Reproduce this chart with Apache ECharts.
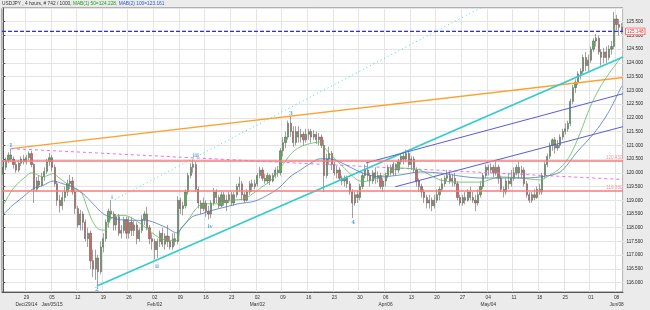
<!DOCTYPE html>
<html><head><meta charset="utf-8">
<script src="https://cdn.jsdelivr.net/npm/echarts/dist/echarts.min.js"></script>
<style>html,body{margin:0;padding:0;background:#ebebeb}#c{width:650px;height:310px}</style>
</head><body><div id="c"></div>
<script>
// 12-hour candles, 10 per trading week
const opens = [
119.95,120.2,120.45,120.65,120.5,120.3,120.1,120.35,120.5,
120.4,120.55,120.7,120.3,119.4,119.7,119.55,119.85,120.05,120.4,
120.55,120.2,119.6,119.0,118.8,119.1,119.3,119.6,119.7,119.3,
118.7,118.1,118.5,118.2,117.6,117.8,116.8,116.5,116.9,116.4,
117.3,117.6,118.2,118.6,118.5,118.1,118.4,117.8,117.9,118.3,
117.8,118.2,117.9,118.1,117.6,117.9,118.3,118.5,118.0,117.6,
117.5,117.2,117.5,117.8,117.4,117.7,117.5,117.3,117.6,117.5,
119.0,118.7,118.8,119.3,119.9,120.2,120.3,119.4,118.9,118.7,
118.9,118.6,118.5,118.9,119.3,119.1,118.8,119.2,118.9,119.0,
119.2,118.9,119.2,119.5,119.6,119.2,119.0,119.3,119.6,119.5,
119.6,119.9,120.1,119.8,119.7,119.9,119.7,119.9,120.1,120.0,
120.8,121.1,121.3,121.8,121.5,121.1,121.5,121.3,121.4,121.2,
121.4,121.5,121.3,121.4,121.2,121.3,121.0,119.9,120.5,120.7,
120.3,120.0,120.1,119.8,119.7,119.8,119.6,119.3,118.9,119.2,
119.1,119.5,119.9,120.1,119.9,119.7,120.0,119.8,119.9,119.5,
119.7,119.9,120.2,120.0,120.3,120.1,120.4,120.6,120.5,120.7,
120.3,120.5,120.1,119.7,119.5,119.3,119.1,118.9,119.0,118.8,
119.0,119.2,119.4,119.6,119.8,119.9,119.7,119.8,119.6,119.1,
118.9,119.1,119.0,119.3,119.1,119.0,118.9,119.2,119.5,119.9,
120.2,120.1,120.2,120.0,120.2,119.8,119.4,119.3,119.7,119.6,
119.8,120.0,120.2,120.0,120.1,119.6,119.2,119.0,119.2,119.1,
119.4,119.3,119.9,120.3,120.6,121.0,121.2,120.9,121.0,121.3,
121.5,121.6,121.8,122.6,123.1,123.3,123.6,123.7,124.2,123.9,
124.1,124.5,124.8,124.9,124.4,124.2,124.4,124.2,124.5,124.6,
125.6,125.4,125.3];
const closes = [
120.2,120.45,120.65,120.5,120.3,120.1,120.35,120.5,120.4,
120.55,120.7,120.3,119.4,119.7,119.55,119.85,120.05,120.4,120.55,
120.2,119.6,119.0,118.8,119.1,119.3,119.6,119.7,119.3,118.7,
118.1,118.5,118.2,117.6,117.8,116.8,116.5,116.9,116.4,117.3,
117.6,118.2,118.6,118.5,118.1,118.4,117.8,117.9,118.3,117.8,
118.2,117.9,118.1,117.6,117.9,118.3,118.5,118.0,117.6,117.5,
117.2,117.5,117.8,117.4,117.7,117.5,117.3,117.6,117.5,119.0,
118.7,118.8,119.3,119.9,120.2,120.3,119.4,118.9,118.7,118.9,
118.6,118.5,118.9,119.3,119.1,118.8,119.2,118.9,119.0,119.2,
118.9,119.2,119.5,119.6,119.2,119.0,119.3,119.6,119.5,119.6,
119.9,120.1,119.8,119.7,119.9,119.7,119.9,120.1,120.0,120.8,
121.1,121.3,121.8,121.5,121.1,121.5,121.3,121.4,121.2,121.4,
121.5,121.3,121.4,121.2,121.3,121.0,119.9,120.5,120.7,120.3,
120.0,120.1,119.8,119.7,119.8,119.6,119.3,118.9,119.2,119.1,
119.5,119.9,120.1,119.9,119.7,120.0,119.8,119.9,119.5,119.7,
119.9,120.2,120.0,120.3,120.1,120.4,120.6,120.5,120.7,120.3,
120.5,120.1,119.7,119.5,119.3,119.1,118.9,119.0,118.8,119.0,
119.2,119.4,119.6,119.8,119.9,119.7,119.8,119.6,119.1,118.9,
119.1,119.0,119.3,119.1,119.0,118.9,119.2,119.5,119.9,120.2,
120.1,120.2,120.0,120.2,119.8,119.4,119.3,119.7,119.6,119.8,
120.0,120.2,120.0,120.1,119.6,119.2,119.0,119.2,119.1,119.4,
119.3,119.9,120.3,120.6,121.0,121.2,120.9,121.0,121.3,121.5,
121.6,121.8,122.6,123.1,123.3,123.6,123.7,124.2,123.9,124.1,
124.5,124.8,124.9,124.4,124.2,124.4,124.2,124.5,124.6,125.6,
125.4,125.3,125.148];
const lows = [
119.9,120.1,120.35,120.4,120.15,120.0,120.02,120.25,120.3,
120.3,120.45,120.2,118.9,119.3,119.45,119.5,119.7,119.95,120.25,
120.05,119.5,118.8,118.55,118.65,118.95,119.15,119.4,119.2,118.5,
118.0,117.9,117.9,117.5,117.3,116.5,116.2,116.1,115.86,116.3,
117.1,117.5,118.0,118.3,117.9,117.9,117.7,117.6,117.8,117.6,
117.6,117.7,117.7,117.4,117.5,117.8,118.1,117.9,117.4,117.2,
116.85,116.9,117.3,117.3,117.2,117.3,117.2,117.2,117.35,117.4,
118.5,118.45,118.7,119.2,119.8,120.0,119.3,118.7,118.5,118.6,
118.4,118.3,118.35,118.8,118.9,118.7,118.75,118.8,118.6,118.9,
118.8,118.8,119.1,119.3,119.0,118.9,118.95,119.2,119.3,119.4,
119.5,119.8,119.7,119.6,119.6,119.55,119.65,119.8,119.85,119.9,
120.6,120.9,121.2,121.3,120.95,121.0,121.1,121.1,121.0,121.1,
121.2,121.1,121.2,121.05,121.0,120.9,119.3,119.8,120.3,120.1,
119.9,119.8,119.7,119.55,119.5,119.45,119.2,118.35,118.8,118.9,
119.0,119.4,119.8,119.7,119.5,119.6,119.6,119.65,119.4,119.3,
119.5,119.8,119.9,119.9,119.9,120.0,120.3,120.3,120.4,120.2,
120.1,120.0,119.5,119.3,119.1,118.9,118.7,118.7,118.6,118.7,
118.9,119.0,119.3,119.5,119.7,119.6,119.5,119.5,119.0,118.8,
118.8,118.85,118.95,119.0,118.9,118.6,118.8,119.1,119.4,119.8,
119.9,120.0,119.85,119.9,119.6,119.3,119.1,119.2,119.4,119.5,
119.7,119.9,119.8,119.8,119.5,119.1,118.9,118.9,119.0,119.05,
119.2,119.2,119.8,120.2,120.5,120.8,120.7,120.8,120.9,121.2,
121.4,121.5,121.7,122.5,122.9,123.2,123.4,123.6,123.7,123.7,
124.0,124.4,124.6,124.3,123.9,124.0,124.0,124.1,124.3,124.5,
125.2,125.0,125.05];
const highs = [
120.3,120.55,120.75,120.88,120.6,120.4,120.45,120.6,120.65,
120.65,120.78,120.8,120.35,119.85,119.9,120.0,120.2,120.5,120.72,
120.65,120.3,119.7,119.2,119.3,119.5,119.75,119.92,119.85,119.4,
118.8,118.65,118.6,118.3,118.0,117.9,117.2,117.2,117.0,117.5,
117.8,118.3,118.7,119.0,118.6,118.5,118.5,118.1,118.4,118.4,
118.4,118.4,118.25,118.2,118.0,118.45,118.6,118.76,118.1,117.8,
117.6,117.6,117.9,118.0,117.8,118.1,117.7,117.8,117.8,119.15,
119.1,118.95,119.4,120.0,120.35,120.48,120.4,119.5,119.0,119.1,
119.0,118.8,119.0,119.45,119.4,119.2,119.3,119.3,119.2,119.3,
119.3,119.3,119.6,119.86,119.7,119.3,119.4,119.7,119.75,119.75,
120.0,120.22,120.2,119.95,120.0,119.95,120.0,120.2,120.25,120.9,
121.3,121.5,121.9,122.05,121.7,121.7,121.7,121.6,121.5,121.6,
121.6,121.6,121.55,121.5,121.45,121.4,121.2,120.7,120.95,120.8,
120.4,120.25,120.2,119.9,119.9,119.9,119.7,119.4,119.3,119.35,
119.6,120.0,120.3,120.35,120.0,120.1,120.2,120.05,120.0,119.8,
120.0,120.3,120.3,120.4,120.35,120.5,120.7,120.75,120.84,120.8,
120.6,120.6,120.2,119.8,119.6,119.4,119.2,119.2,119.1,119.2,
119.4,119.5,119.8,119.9,120.1,120.05,119.95,120.0,119.7,119.2,
119.2,119.3,119.4,119.5,119.3,119.2,119.4,119.7,120.0,120.3,
120.3,120.35,120.3,120.45,120.3,119.9,119.5,119.8,120.0,120.1,
120.2,120.3,120.4,120.25,120.2,119.7,119.3,119.3,119.4,119.5,
119.6,120.0,120.4,120.7,121.1,121.25,121.3,121.2,121.4,121.6,
121.8,121.9,122.7,123.2,123.4,123.7,123.8,124.3,124.4,124.3,
124.6,124.9,125.05,125.0,124.5,124.55,124.6,124.65,124.8,125.86,
125.75,125.6,125.45];
const categories = opens.map((_, i) => String(i));

// weekly tick labels (Mondays) and second-row month labels
const weekDays = ['29','05','12','19','26','02','09','16','23','02','09','16','23','30','06','13','20','27','04','11','18','25','01','08'];
const weekSub = {1:'Dec/29/14', 2:'Jan/05/15', 6:'Feb/02', 10:'Mar/02', 15:'Apr/06', 19:'May/04', 24:'Jun/08'};

// moving averages: [candle index, value]
const ma50 = [[0.3,118.87],[3.8,119.42],[7.7,119.78],[11.2,120.0],[15.5,119.85],[19.4,119.97],[21.3,119.85],[24.8,119.6],[28.7,119.38],[30.7,119.24],[32.6,118.75],[34.6,118.27],[36.9,117.96],[39.6,117.91],[40.8,118.15],[42.8,118.39],[46.7,118.45],[49.4,118.39],[55.2,118.03],[60.3,117.66],[64.2,117.54],[67.7,117.54],[68.9,117.92],[72,118.28],[74.7,118.65],[76.7,118.82],[79.8,118.87],[83.7,118.87],[89.1,119.0],[94.2,119.06],[98.1,119.3],[100.7,119.48],[104.4,119.73],[108.3,120.21],[112.2,120.7],[115.6,120.94],[119.5,121.06],[123.4,121.12],[124.6,120.98],[127.3,120.69],[131.2,120.33],[135.1,119.97],[137.8,119.75],[140.2,119.68],[142.9,119.72],[146.8,119.85],[154.6,120.17],[162.4,120.1],[170.2,119.74],[178,119.66],[185.8,119.66],[193.6,119.85],[201.4,119.81],[209.2,119.74],[213.1,119.92],[217,120.17],[221,120.65],[224.8,121.45],[228.7,122.39],[232.6,123.12],[236.5,123.67],[241,124.228]];
const ma100 = [[0.3,118.51],[3.8,118.83],[7.7,119.12],[11.6,119.42],[15.5,119.54],[19.4,119.7],[23.3,119.6],[27.2,119.48],[31.1,119.24],[35,118.87],[38.9,118.51],[41.6,118.39],[45.5,118.29],[49.4,118.27],[55.2,118.27],[63,118.03],[67.7,117.81],[69.6,118.0],[73.5,118.39],[77.4,118.51],[81.3,118.63],[86.4,118.75],[91.5,118.87],[98.1,118.97],[104,119.24],[107.8,119.48],[111.7,119.85],[115.6,120.09],[119.5,120.33],[123.4,120.51],[127.3,120.51],[131.2,120.39],[135.1,120.21],[139,120.03],[142.9,119.91],[146.8,119.85],[154.6,119.92],[162.4,120.03],[170.2,119.99],[178,119.88],[185.8,119.81],[193.6,119.81],[201.4,119.81],[209.2,119.85],[217,120.03],[223.6,120.76],[230.3,121.45],[235.7,122.18],[241,123.161]];

// drawn trend lines: [candle index, price]
const orangeLine = [[3.0,120.88],[241.5,123.47]];
const pinkLine = [[3.0,120.88],[241.5,119.756]];
const cyanLine = [[36.5,115.88],[241.5,124.215]];
const cyanDotted = [[43.5,119.03],[190,126.2]];
const purpleUpper = [[141.4,120.36],[241.5,122.88]];
const purpleLower = [[152.7,119.49],[241.5,121.68]];
const levels = [120.45, 119.35];
const lastPrice = 125.148;
const lastPriceLine = [[-0.5, lastPrice], [241.5, lastPrice]];
const waveLabels = [[3.0,120.975,'1'],[36.5,115.76,'2'],[42.4,119.08,'i'],[59.9,116.57,'ii'],[75.1,120.61,'iii'],[80.6,118.03,'iv'],[112.1,122.14,'3'],[136.3,118.17,'4']];

const FONT = 'Liberation Sans, Arial, sans-serif';
const chart = echarts.init(document.getElementById('c'), null, {renderer: 'canvas'});
const isWeek = (i) => (i + 1) % 10 === 0;
const trend = (data, color, width, type) => ({
  type: 'line', xAxisIndex: 1, data, showSymbol: false, silent: true,
  lineStyle: {color, width, type}, itemStyle: {color}, z: 3, animation: false
});
const levelLabel = (txt) => ({show: true, position: 'insideEndTop', formatter: txt, color: '#ff9898', fontSize: 4.6, fontFamily: FONT, distance: 0.5});
chart.setOption({
  animation: false,
  backgroundColor: '#ebebeb',
  title: {
    left: 2, top: 1, padding: 0,
    text: '{a|USDJPY , 4 hours, # 742 / 1000, }{b|MAB(1) 50=124.228, }{c|MAB(2) 100=123.161}',
    textStyle: {fontFamily: FONT, fontSize: 4.8, fontWeight: 'normal',
      rich: {a: {color: '#333', fontSize: 4.8, fontFamily: FONT}, b: {color: '#22a022', fontSize: 4.8, fontFamily: FONT}, c: {color: '#2a5cc8', fontSize: 4.8, fontFamily: FONT}}}
  },
  grid: {left: 2, right: 27, top: 8, bottom: 18, show: true, backgroundColor: '#ffffff', borderColor: '#777', borderWidth: 1},
  xAxis: [{
    type: 'category', data: categories, boundaryGap: true,
    axisLine: {lineStyle: {color: '#555', width: 1}},
    axisTick: {show: false},
    axisLabel: {
      interval: (i) => isWeek(i), fontSize: 4.8, fontFamily: FONT, color: '#333', margin: 2.5, lineHeight: 7,
      formatter: (v, i) => { const k = (Number(v) + 1) / 10; return weekDays[k - 1] + (weekSub[k] ? '\n' + weekSub[k] : ''); }
    },
    splitLine: {show: true, interval: (i) => isWeek(i), lineStyle: {color: '#e4e4e4', width: 1}}
  }, {
    type: 'value', min: -0.5, max: 241.5, show: false
  }],
  yAxis: {
    type: 'value', position: 'right', min: 115.66, max: 126, splitNumber: 20,
    axisLine: {show: true, lineStyle: {color: '#555'}},
    axisTick: {show: true, length: 2, lineStyle: {color: '#555'}},
    axisLabel: {fontSize: 4.6, fontFamily: FONT, color: '#222', margin: 3.5, showMinLabel: false, showMaxLabel: false,
      formatter: (v) => v.toFixed(3)},
    splitLine: {show: true, lineStyle: {color: '#e4e4e4', width: 1}}
  },
  series: [
    {
      type: 'candlestick', xAxisIndex: 0, barWidth: 1.7, z: 2,
      data: opens.map((o, i) => [o, closes[i], lows[i], highs[i]]),
      itemStyle: {color: '#4cb84c', color0: '#e85c5c', borderColor: '#555555', borderColor0: '#555555', borderWidth: 0.55}
    },
    {type: 'line', xAxisIndex: 1, data: ma50, showSymbol: false, smooth: 0.3, silent: true, z: 4,
      lineStyle: {color: '#5cbc5c', width: 0.8}},
    {type: 'line', xAxisIndex: 1, data: ma100, showSymbol: false, smooth: 0.3, silent: true, z: 4,
      lineStyle: {color: '#5077b8', width: 0.8}},
    Object.assign(trend(orangeLine, '#ffa030', 1.5, 'solid'), {
      markLine: {
        symbol: 'none', silent: true, animation: false,
        lineStyle: {color: '#ff7878', width: 1.5, type: 'solid'},
        data: [
          {yAxis: levels[0], label: levelLabel(levels[0].toFixed(3))},
          {yAxis: levels[1], label: levelLabel(levels[1].toFixed(3))}
        ]
      }
    }),
    {
      type: 'line', xAxisIndex: 1, data: lastPriceLine, showSymbol: false, silent: true, z: 5, clip: false,
      color: '#2b2bff',
      lineStyle: {color: '#2b2bff', width: 1.2, type: [4, 2], opacity: 1}, itemStyle: {color: '#2b2bff'},
      endLabel: {show: true, formatter: lastPrice.toFixed(3), color: '#ff2a2a', fontSize: 4.6, fontFamily: FONT,
        backgroundColor: '#ffffff', borderColor: '#ff3a3a', borderWidth: 0.7, padding: [0.5, 1], distance: 3}
    },
    trend(pinkLine, '#ee6cee', 1, [3, 3]),
    trend(cyanLine, '#33cccc', 1.8, 'solid'),
    trend(cyanDotted, '#55d4d4', 1, [1, 3]),
    trend(purpleUpper, '#5a5ae0', 1, 'solid'),
    trend(purpleLower, '#5a5ae0', 1, 'solid'),
    {
      type: 'scatter', xAxisIndex: 1, data: waveLabels, symbolSize: 0, silent: true, z: 6,
      label: {show: true, position: 'inside', formatter: (p) => p.data[2], color: '#3596d0', fontSize: 5.5,
        fontWeight: 'bold', fontFamily: 'DejaVu Serif, serif'}
    }
  ]
});
</script>
</body></html>
